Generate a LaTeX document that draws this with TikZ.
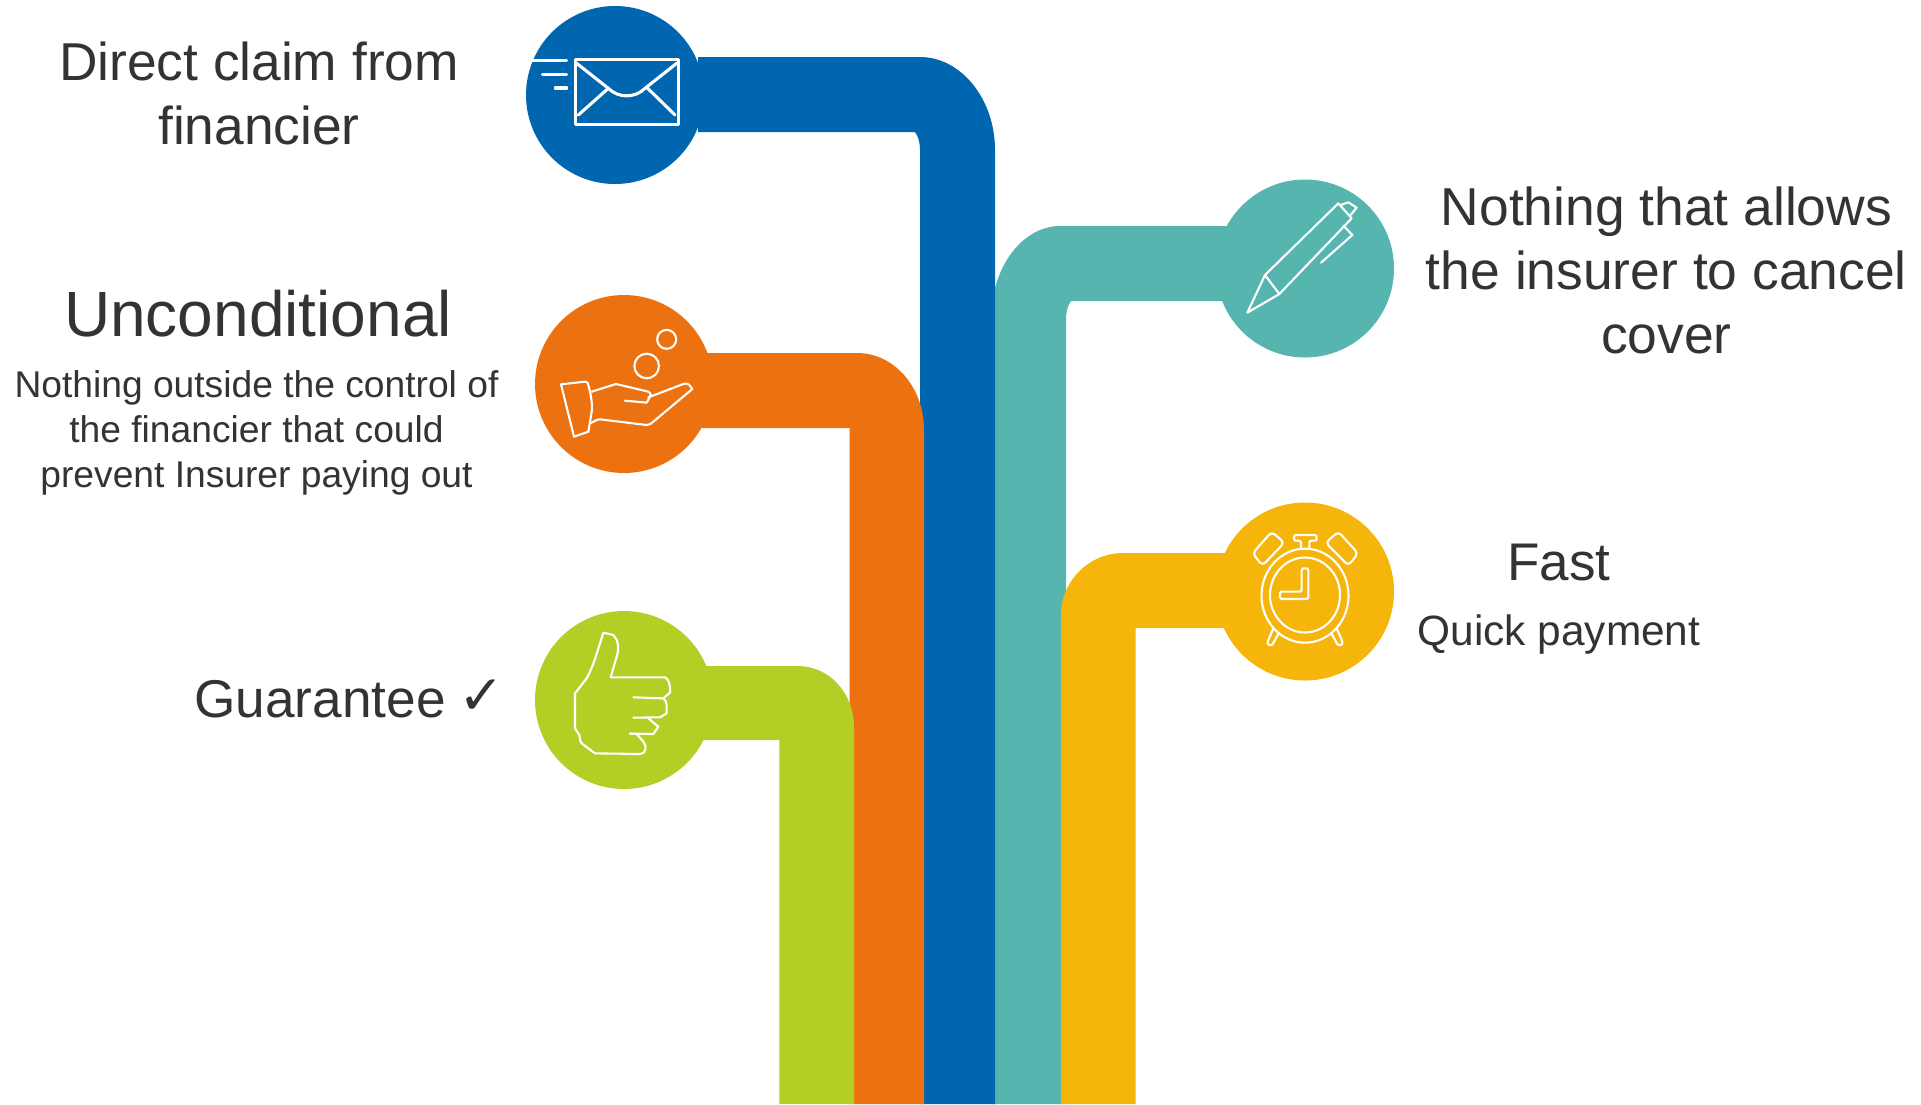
\documentclass[tikz,border=0pt]{standalone}
\usepackage{fontspec}
\setmainfont{Liberation Sans}
\newfontfamily\symfont{DejaVu Sans}
\definecolor{cblue}{HTML}{0066AF}
\definecolor{corange}{HTML}{EC7211}
\definecolor{cgreen}{HTML}{B5CE26}
\definecolor{cteal}{HTML}{57B5B0}
\definecolor{cyellow}{HTML}{F6B50A}
\definecolor{ctext}{HTML}{333333}
\tikzset{
  disc/.style={circle,minimum size=178pt,inner sep=0pt,draw=none},
  txtlabel/.style={text=ctext,align=center,inner sep=0pt},
  icon/.style={draw=white,line width=#1,line join=round,line cap=round},
  icon/.default=2.1pt,
  zoomed/.style={x=0.33333pt,y=-0.33333pt}
}
\begin{document}
\begin{tikzpicture}[x=1pt,y=-1pt]
\useasboundingbox (0,0) rectangle (1921,1104);
% teal
\node[disc,fill=cteal] (dteal) at (1305,268.5) {};
\fill[cteal] (1240,226) -- (1060,226) .. controls (1022,226) and (991,268) .. (991,319) -- (991,1104) -- (1066,1104) -- (1066,319) .. controls (1066,311) and (1068,305) .. (1071,301) -- (1240,301) -- cycle;
% blue
\node[disc,fill=cblue] (dblue) at (615,95) {};
\fill[cblue] (698,57) -- (920,57) .. controls (961,57) and (995,99) .. (995,150) -- (995,1104) -- (920,1104) -- (920,150) .. controls (920,142) and (918,136) .. (915,132) -- (698,132) -- cycle;
% orange
\node[disc,fill=corange] (dorange) at (624,384) {};
\fill[corange] (705,353) -- (857,353) .. controls (894,353) and (924,387) .. (924,430) -- (924,1104) -- (849.7,1104) -- (849.7,428) -- (702,428) -- cycle;
% green
\node[disc,fill=cgreen] (dgreen) at (624,700) {};
\fill[cgreen] (705,666) -- (798,666) .. controls (829,666) and (854,693) .. (854,727) -- (854,1104) -- (779.3,1104) -- (779.3,740) -- (702,740) -- cycle;
% yellow
\node[disc,fill=cyellow] (dyellow) at (1305,591.5) {};
\fill[cyellow] (1240,553) -- (1123,553) .. controls (1089,553) and (1061,581) .. (1061,615) -- (1061,1104) -- (1135.5,1104) -- (1135.5,628) -- (1240,628) -- cycle;
% envelope
\begin{scope}[shift={(510,0)},zoomed]
\draw[icon=3.1pt] (196,178) rectangle (505,373);
\draw[icon=3.1pt] (200,190) -- (295,265) .. controls (325,295) and (375,295) .. (405,265) -- (500,190);
\draw[icon=3.1pt] (205,345) -- (295,265) (495,345) -- (410,262);
\draw[icon=3.1pt] (68,182) -- (170,182) (97,224) -- (170,224) (136,264) -- (170,264);
\end{scope}
% hand
\begin{scope}[shift={(520,290)},zoomed]
\draw[icon] (123,283) -- (195,275) .. controls (203,275) and (205,280) .. (205,285) .. controls (212,310) and (218,340) .. (215,365) -- (205,425) -- (162,440) -- cycle;
\draw[icon] (215,305) -- (288,282) -- (385,305) .. controls (392,308) and (395,314) .. (390,320) -- (380,338) -- (315,332);
\draw[icon] (385,322) -- (490,282) .. controls (497,280) and (503,280) .. (507,284) -- (517,297) -- (400,395) .. controls (392,402) and (388,405) .. (380,405) -- (240,388) .. controls (228,388) and (222,396) .. (210,400);
\draw[icon] (380,228) circle[radius=12.3pt];
\draw[icon] (440,148) circle[radius=9.5pt];
\end{scope}
% thumb
\begin{scope}[shift={(440,610)},zoomed]
\draw[icon] (570,371) -- (590,372) -- (610,395) .. controls (622,410) and (618,432) .. (600,432) -- (465,430) -- (425,400) .. controls (418,390) and (420,380) .. (418,375) -- (405,355) -- (405,250) -- (440,205) .. controls (460,170) and (475,115) .. (490,68) -- (520,75) .. controls (535,90) and (538,115) .. (530,140) -- (512,202) -- (675,202) .. controls (685,205) and (692,225) .. (690,248) -- (670,265) -- (580,262);
\draw[icon] (670,265) .. controls (678,272) and (680,280) .. (680,285) -- (680,310) -- (660,322) -- (580,323);
\draw[icon] (625,325) -- (655,350) -- (640,372) -- (570,371);
\end{scope}
% pen
\begin{scope}[shift={(1220,175)},zoomed]
\draw[icon] (135,300) -- (355,85) -- (395,130) -- (178,357) -- cycle;
\draw[icon] (135,300) -- (82,413) -- (178,357);
\draw[icon] (362,90) -- (385,82) -- (410,98) -- (390,122);
\draw[icon] (370,152) -- (397,180) -- (303,263);
\end{scope}
% clock
\begin{scope}[shift={(1220,500)},zoomed]
\draw[icon] (255,287) ellipse[x radius=43.5pt,y radius=47pt];
\draw[icon] (255,285) ellipse[x radius=35pt,y radius=37.5pt];
\draw[icon,rounded corners=4pt] (155,95) -- (193,128) -- (127,197) -- (98,160) -- cycle;
\draw[icon,rounded corners=4pt] (355,95) -- (317,128) -- (385,197) -- (414,160) -- cycle;
\draw[icon,rounded corners=2pt] (243,147) -- (243,122) -- (222,122) -- (222,105) -- (290,105) -- (290,122) -- (268,122) -- (268,147);
\draw[icon,rounded corners=1.5pt] (245,205) -- (265,205) -- (265,297) -- (180,297) -- (180,275) -- (245,275) -- cycle;
\draw[icon,rounded corners=2.5pt] (160,385) -- (140,432) -- (155,438) -- (177,398);
\draw[icon,rounded corners=2.5pt] (350,385) -- (370,432) -- (355,438) -- (333,398);
\end{scope}
% text
\node[txtlabel,font=\fontsize{53.3}{64}\selectfont] (t1) at (259,93) {Direct claim from\\financier};
\node[txtlabel,font=\fontsize{64}{70}\selectfont] (t2) at (258,313.5) {Unconditional};
\node[txtlabel,font=\fontsize{37.2}{45}\selectfont] (t3) at (256.5,433) {Nothing outside the control of\\the financier that could\\prevent Insurer paying out};
\node[txtlabel,font=\fontsize{53.2}{64}\selectfont,anchor=east] (t4) at (446,699.5) {Guarantee};
\node[txtlabel,font=\symfont\fontsize{55}{55}\selectfont] (t4b) at (482,697) {✓};
\node[txtlabel,font=\fontsize{53.4}{64}\selectfont] (t5) at (1666.4,270) {Nothing that allows\\the insurer to cancel\\cover};
\node[txtlabel,font=\fontsize{53}{64}\selectfont] (t6) at (1559,562.5) {Fast};
\node[txtlabel,font=\fontsize{42.4}{45}\selectfont] (t7) at (1559,635) {Quick payment};
\end{tikzpicture}
\end{document}
